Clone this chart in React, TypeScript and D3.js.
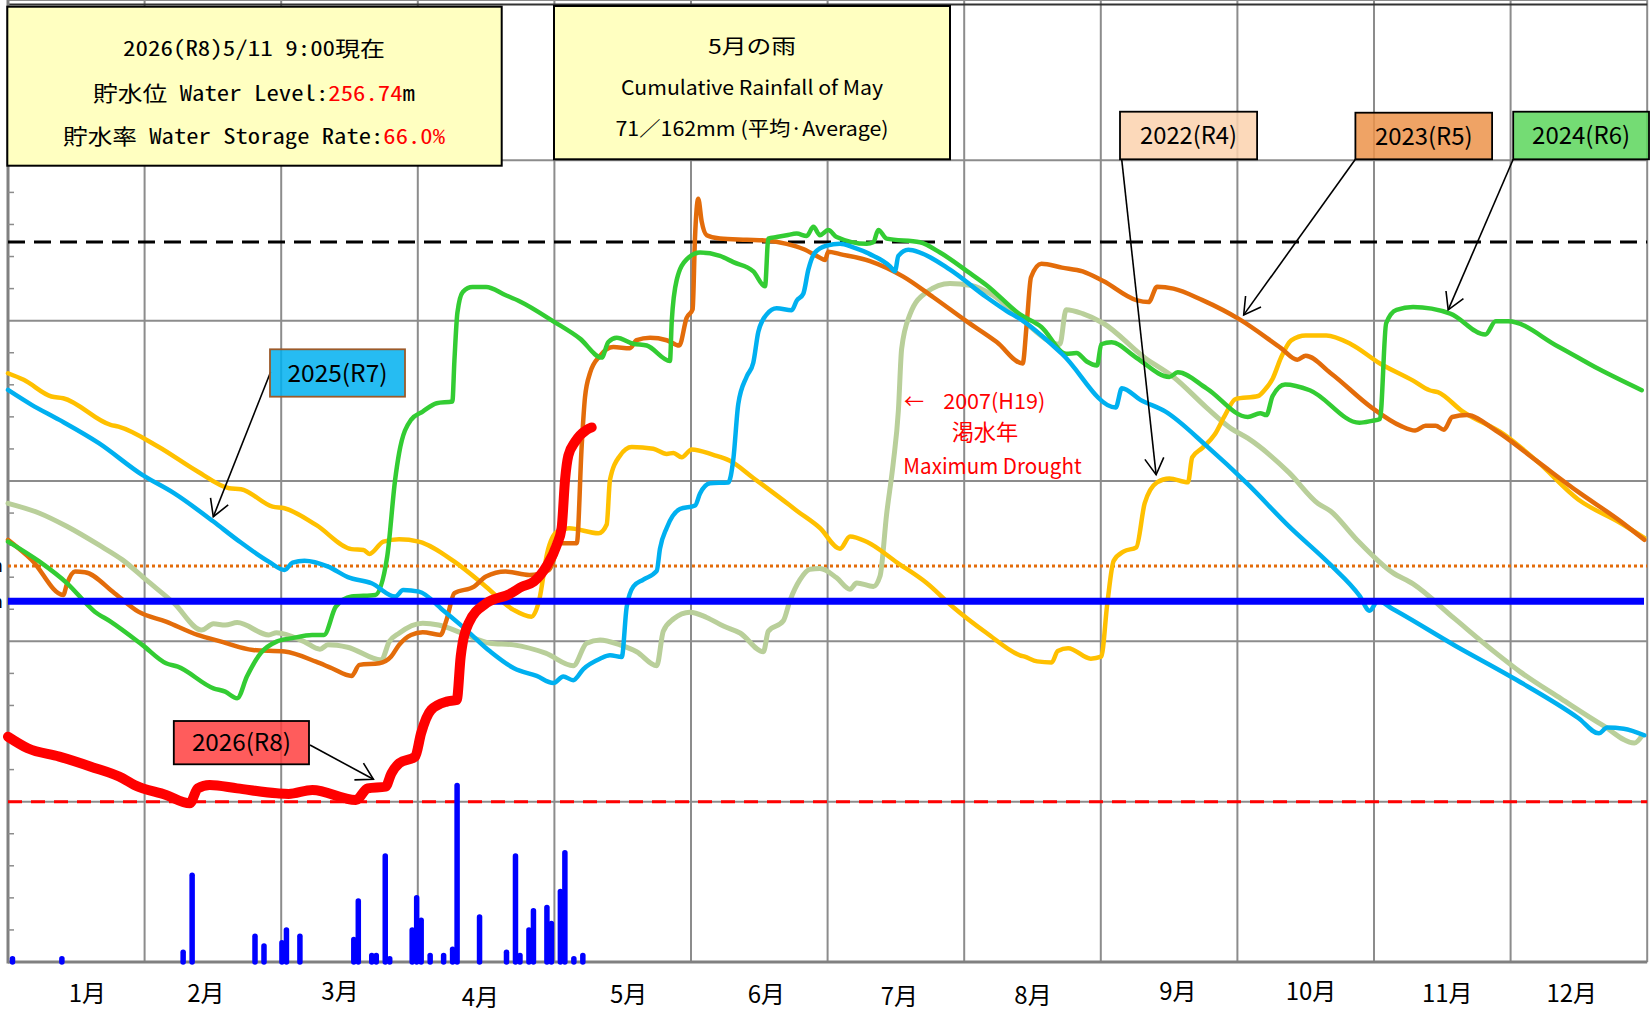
import React from 'react';
import * as d3 from 'd3';

// x: month index 0..12 (column = month), y: level in chart units (0..60, gridline every 10)
const months = ['1月', '2月', '3月', '4月', '5月', '6月', '7月', '8月', '9月', '10月', '11月', '12月'];

const s2007: [number, number][] = [
  [0, 28.61], [0.231, 27.99], [0.433, 27.16], [0.665, 26.01], [0.838, 25.08], [1.012, 23.83], [1.215, 22.38],
  [1.417, 20.71], [1.504, 21.09], [1.59, 21.02], [1.678, 21.17], [1.909, 20.4], [1.966, 20.54], [2.168, 19.98],
  [2.284, 19.51], [2.342, 19.78], [2.486, 19.63], [2.733, 18.84], [2.791, 19.98], [2.863, 20.51], [3.036, 21.13],
  [3.152, 21.02], [3.325, 20.51], [3.528, 19.88], [3.701, 19.78], [3.936, 19.26], [4.138, 18.48], [4.236, 19.88],
  [4.334, 20.09], [4.48, 19.78], [4.602, 19.35], [4.749, 18.48], [4.797, 20.63], [4.871, 21.39], [4.993, 21.82],
  [5.115, 21.49], [5.237, 20.95], [5.359, 20.52], [5.53, 19.35], [5.566, 20.63], [5.676, 21.28], [5.725, 22.56],
  [5.798, 23.85], [5.871, 24.5], [5.944, 24.54], [6.066, 23.96], [6.164, 23.25], [6.213, 23.64], [6.335, 23.42],
  [6.384, 24.07], [6.432, 27.93], [6.481, 31.15], [6.518, 34.37], [6.542, 38.24], [6.603, 40.39], [6.725, 41.78],
  [6.896, 42.32], [7.042, 42.21], [7.213, 41.57], [7.408, 40.17], [7.7, 38.53], [7.746, 40.68], [7.867, 40.44],
  [8.018, 39.84], [8.321, 37.69], [8.532, 36.49], [8.774, 34.58], [8.955, 33.27], [9.076, 32.67], [9.378, 30.52],
  [9.59, 28.6], [9.681, 28.13], [9.862, 26.45], [10.134, 24.3], [10.286, 23.58], [10.588, 21.43], [10.891, 19.28],
  [11.073, 18.08], [11.371, 16.41], [11.679, 14.74], [11.906, 13.66], [11.964, 14.14],
];

const s2022: [number, number][] = [
  [0, 36.72], [0.115, 36.31], [0.318, 35.27], [0.404, 35.16], [0.751, 33.5], [0.809, 33.39], [1.098, 32.15],
  [1.388, 30.59], [1.619, 29.55], [1.706, 29.49], [1.937, 28.4], [2.024, 28.3], [2.255, 27.26], [2.515, 25.75],
  [2.602, 25.7], [2.646, 25.45], [2.748, 26.22], [2.863, 26.37], [3.007, 26.22], [3.268, 24.97], [3.499, 23.41],
  [3.701, 21.96], [3.832, 21.54], [3.889, 22.58], [3.947, 25.5], [4.02, 26.84], [4.107, 27.05], [4.323, 26.74],
  [4.383, 27.29], [4.407, 30.08], [4.48, 31.58], [4.566, 32.12], [4.724, 32.01], [4.822, 31.69], [4.871, 31.75],
  [4.932, 31.48], [5.005, 31.97], [5.163, 31.63], [5.285, 31.26], [5.456, 30.19], [5.676, 28.79], [5.774, 28.15],
  [5.944, 27.07], [6.091, 25.78], [6.164, 26.54], [6.286, 26.21], [6.506, 24.93], [6.725, 23.64], [6.92, 22.13],
  [7.164, 20.52], [7.408, 19.13], [7.443, 19.04], [7.534, 18.75], [7.64, 18.68], [7.685, 19.4], [7.761, 19.57],
  [7.927, 18.92], [8.003, 19.04], [8.048, 22.39], [8.094, 25.02], [8.169, 25.61], [8.26, 25.86], [8.321, 28.6],
  [8.412, 29.92], [8.502, 30.16], [8.638, 29.92], [8.669, 31.47], [8.744, 32.07], [8.835, 32.91], [8.91, 34.11],
  [8.986, 35.11], [9.152, 35.3], [9.198, 35.66], [9.258, 36.38], [9.319, 37.69], [9.394, 38.77], [9.5, 39.08],
  [9.651, 39.08], [9.832, 38.53], [10.044, 37.33], [10.286, 36.26], [10.407, 35.66], [10.467, 35.54],
  [10.648, 34.34], [10.951, 32.91], [11.193, 31.24], [11.495, 28.85], [11.798, 27.41], [11.979, 26.45],
];

const s2023: [number, number][] = [
  [0, 26.33], [0.173, 25.08], [0.404, 22.89], [0.433, 23.62], [0.491, 24.35], [0.563, 24.31], [0.78, 23.0],
  [0.954, 21.85], [1.157, 21.23], [1.388, 20.4], [1.561, 19.98], [1.793, 19.46], [2.024, 19.36], [2.255, 18.73],
  [2.371, 18.32], [2.515, 17.84], [2.573, 18.53], [2.718, 18.63], [2.805, 19.05], [2.863, 19.78], [2.95, 20.4],
  [3.036, 20.57], [3.166, 20.4], [3.21, 21.33], [3.268, 23.0], [3.412, 23.41], [3.499, 24.04], [3.643, 24.35],
  [3.817, 24.14], [3.961, 24.45], [4.048, 26.12], [4.164, 26.12], [4.2, 32.23], [4.224, 35.23], [4.261, 36.74],
  [4.334, 37.81], [4.431, 38.35], [4.553, 38.28], [4.602, 38.78], [4.7, 38.93], [4.822, 38.78], [4.914, 38.45],
  [4.968, 40.17], [5.012, 40.71], [5.029, 45.12], [5.053, 47.6], [5.078, 46.19], [5.115, 45.33], [5.212, 45.12],
  [5.408, 45.05], [5.554, 45.0], [5.7, 44.79], [5.822, 44.47], [5.944, 43.93], [5.981, 43.78], [6.005, 44.3],
  [6.091, 44.15], [6.31, 43.72], [6.554, 42.75], [6.774, 41.46], [7.018, 39.96], [7.238, 38.67], [7.428, 37.33],
  [7.458, 39.84], [7.489, 42.71], [7.565, 43.55], [7.716, 43.31], [7.867, 43.07], [8.018, 42.47], [8.26, 41.28],
  [8.35, 41.16], [8.412, 42.11], [8.532, 42.0], [8.744, 41.28], [9.016, 40.08], [9.319, 38.29], [9.439, 37.57],
  [9.5, 37.81], [9.681, 36.74], [9.983, 34.58], [10.195, 33.44], [10.301, 33.15], [10.377, 33.44], [10.452, 33.44],
  [10.512, 33.2], [10.573, 33.99], [10.679, 34.11], [10.891, 33.15], [11.193, 31.24], [11.495, 29.32],
  [11.798, 27.53], [11.979, 26.33],
];

const s2024: [number, number][] = [
  [0, 26.22], [0.231, 24.97], [0.433, 23.62], [0.635, 21.85], [0.751, 21.23], [0.983, 19.78], [1.157, 18.63],
  [1.243, 18.42], [1.504, 17.07], [1.59, 16.86], [1.678, 16.45], [1.749, 17.8], [1.85, 19.26], [1.966, 19.98],
  [2.082, 20.2], [2.226, 20.4], [2.313, 20.4], [2.4, 22.16], [2.515, 22.79], [2.689, 22.89], [2.776, 25.28],
  [2.834, 30.07], [2.863, 31.73], [2.95, 33.81], [3.036, 34.33], [3.138, 34.85], [3.253, 34.96], [3.268, 37.5],
  [3.29, 40.5], [3.33, 41.8], [3.4, 42.1], [3.5, 42.1], [3.64, 41.6], [3.748, 41.2], [3.992, 39.96], [4.187, 38.88],
  [4.346, 37.7], [4.395, 38.67], [4.456, 38.93], [4.578, 38.56], [4.676, 38.45], [4.846, 37.49], [4.859, 39.96],
  [4.895, 42.53], [4.968, 43.82], [5.066, 44.25], [5.212, 44.04], [5.31, 43.65], [5.456, 43.08], [5.542, 42.14],
  [5.566, 45.12], [5.627, 45.22], [5.7, 45.33], [5.774, 45.43], [5.847, 45.28], [5.896, 45.86], [5.944, 45.33],
  [6.005, 45.65], [6.066, 45.22], [6.286, 44.79], [6.335, 44.89], [6.371, 45.65], [6.432, 45.12], [6.676, 44.89],
  [6.823, 44.25], [7.042, 42.96], [7.164, 42.21], [7.408, 40.39], [7.565, 39.61], [7.746, 37.93], [7.822, 37.98],
  [7.897, 37.45], [7.973, 37.21], [8.003, 38.53], [8.079, 38.65], [8.26, 37.69], [8.502, 36.49], [8.563, 36.78],
  [8.774, 35.78], [9.076, 33.99], [9.167, 34.23], [9.212, 34.11], [9.258, 35.3], [9.349, 36.02], [9.53, 35.66],
  [9.893, 33.63], [9.983, 33.75], [10.044, 33.87], [10.089, 39.84], [10.165, 40.68], [10.286, 40.85],
  [10.558, 40.44], [10.815, 39.13], [10.891, 39.96], [10.981, 39.96], [11.344, 38.41], [11.646, 36.98], [11.96, 35.66],
];

const s2025: [number, number][] = [
  [0, 35.68], [0.173, 34.75], [0.376, 33.81], [0.665, 32.36], [0.983, 30.38], [1.215, 29.24], [1.504, 27.47],
  [1.678, 26.33], [1.909, 24.97], [2.025, 24.45], [2.083, 24.91], [2.17, 25.03], [2.344, 24.66], [2.488, 24.0],
  [2.662, 23.62], [2.835, 22.79], [2.893, 23.2], [3.009, 23.1], [3.182, 21.96], [3.328, 20.92], [3.531, 19.36],
  [3.704, 18.32], [3.87, 17.84], [3.992, 17.4], [4.065, 17.8], [4.138, 17.58], [4.212, 18.27], [4.334, 18.91],
  [4.407, 19.13], [4.493, 19.02], [4.529, 22.13], [4.578, 23.42], [4.651, 23.85], [4.749, 24.39], [4.773, 25.78],
  [4.822, 27.07], [4.919, 28.25], [5.03, 28.47], [5.066, 29.22], [5.139, 29.86], [5.273, 29.91], [5.31, 31.37],
  [5.346, 34.8], [5.408, 36.52], [5.456, 37.38], [5.493, 39.31], [5.554, 40.39], [5.627, 40.77], [5.737, 40.65],
  [5.774, 41.25], [5.822, 41.68], [5.859, 43.18], [5.908, 44.25], [5.993, 44.68], [6.091, 44.8], [6.188, 44.57],
  [6.31, 44.15], [6.457, 43.39], [6.493, 43.08], [6.518, 44.04], [6.591, 44.42], [6.676, 44.25], [6.896, 43.18],
  [7.164, 41.46], [7.311, 40.6], [7.414, 40.08], [7.716, 37.93], [8.109, 34.58], [8.154, 35.78], [8.29, 35.06],
  [8.471, 34.34], [8.774, 32.19], [9.076, 29.8], [9.378, 27.17], [9.681, 24.78], [9.893, 22.86], [9.968, 21.91],
  [10.029, 22.51], [10.134, 22.03], [10.588, 19.76], [11.042, 17.6], [11.495, 15.22], [11.646, 14.26],
  [11.707, 14.62], [11.828, 14.55], [11.979, 14.14],
];

const s2026: [number, number][] = [
  [0, 14.05], [0.144, 13.33], [0.376, 12.81], [0.607, 12.18], [0.839, 11.46], [0.925, 11.04], [1.157, 10.42],
  [1.331, 9.9], [1.389, 10.83], [1.476, 11.04], [1.678, 10.83], [1.968, 10.52], [2.054, 10.48], [2.228, 10.73],
  [2.547, 10.1], [2.633, 10.83], [2.764, 10.94], [2.807, 11.77], [2.865, 12.4], [2.981, 12.81], [3.024, 14.27],
  [3.097, 15.72], [3.212, 16.24], [3.285, 16.34], [3.314, 19.05], [3.372, 21.13], [3.502, 22.38], [3.675, 22.96],
  [3.763, 23.41], [3.849, 23.72], [3.944, 24.71], [4.017, 26.0], [4.053, 27.07], [4.078, 30.08], [4.102, 31.58],
  [4.151, 32.44], [4.236, 33.19], [4.273, 33.34],
];

// daily rainfall 2026: day of year, mm
const rainDay = [1, 12, 39, 41, 55, 57, 61, 62, 65, 77, 78, 81, 82, 84, 85, 90, 91, 92, 94, 97, 99, 100, 105, 111, 113, 114, 116, 117, 120, 121, 123, 124, 126, 128];
const rainMm = [1, 1, 3, 27, 8, 5, 6, 10, 8, 7, 19, 2, 2, 33, 1, 10, 20, 13, 2, 2, 4, 55, 14, 3, 33, 2, 10, 16, 17, 12, 22, 34, 1, 2];

// reference levels
const fullLevel = 44.9;
const orangeLevel = 24.7;
const blueLevel = 22.5;
const redLevel = 10;

const series = [
  { name: '2007', data: s2007, color: '#B9CF9A', width: 5 },
  { name: '2022', data: s2022, color: '#FFC000', width: 4.5 },
  { name: '2023', data: s2023, color: '#E36C0A', width: 4.5 },
  { name: '2024', data: s2024, color: '#33CC33', width: 4.5 },
  { name: '2025', data: s2025, color: '#00B0F0', width: 4.5 },
];

// hand-placed month captions, offsets from column centre
const labelNudge = [[11, 0], [-7, 0], [-9.5, -1.5], [-5.7, 4.5], [6, 1.3], [7, 1.3], [3.5, 3.5], [0.5, 2.5], [8.8, -1.2], [5.3, -2], [5, 0.5], [-7.2, 0.5]];

const left = 8, right = 1647.2, top = 0, bottom = 962;

const jp = '"Noto Sans CJK JP", "Liberation Sans", sans-serif';
const mono = '"Noto Sans Mono CJK JP", "Liberation Mono", "Noto Sans CJK JP", monospace';

function Arrow({ from, to }: { from: [number, number]; to: [number, number] }) {
  const dx = from[0] - to[0], dy = from[1] - to[1];
  const len = Math.hypot(dx, dy);
  const ux = dx / len, uy = dy / len;
  const a = (30 * Math.PI) / 180, L = 19;
  const arm = (s: number) => [
    to[0] + L * (ux * Math.cos(s * a) - uy * Math.sin(s * a)),
    to[1] + L * (ux * Math.sin(s * a) + uy * Math.cos(s * a)),
  ];
  const p1 = arm(1), p2 = arm(-1);
  return (
    <g stroke="#000" strokeWidth={1.6} fill="none">
      <line x1={from[0]} y1={from[1]} x2={to[0]} y2={to[1]} />
      <polyline points={`${p1[0]},${p1[1]} ${to[0]},${to[1]} ${p2[0]},${p2[1]}`} />
    </g>
  );
}

function Tag({ x, y, w, h, fill, stroke, text, tw }: any) {
  return (
    <g>
      <rect x={x} y={y} width={w} height={h} fill={fill} fillOpacity={0.85} stroke={stroke} strokeWidth={1.8} />
      <text x={x + w / 2} y={y + h / 2} dy="0.36em" textAnchor="middle" fontFamily={jp} fontSize={24}
        textLength={tw} lengthAdjust="spacingAndGlyphs" fill="#000">{text}</text>
    </g>
  );
}

export default function App() {
  const x = d3.scaleLinear().domain([0, 12]).range([left, right]);
  const y = d3.scaleLinear().domain([0, 60]).range([bottom, top]);
  const rainY = d3.scaleLinear().domain([0, 50]).range([bottom, 801.5]);
  const dayX = (d: number) => x((d * 12) / 365);

  const line = d3.line<[number, number]>().x(d => x(d[0])).y(d => y(d[1])).curve(d3.curveMonotoneX);

  const majors = d3.range(0, 61, 10);
  const minors = d3.range(0, 61, 2).filter(v => v % 10 !== 0);
  const cols = d3.range(0, 13);

  return (
    <svg width={1650} height={1013} style={{ position: 'absolute', left: 0, top: 0, background: '#fff' }}>
      <rect x={0} y={0} width={1650} height={1013} fill="#fff" />
      {/* grid */}
      <g stroke="#8C8C8C" strokeWidth={2}>
        {majors.map(v => <line key={'h' + v} x1={left} x2={right} y1={y(v)} y2={y(v)} />)}
        {cols.map(c => <line key={'v' + c} x1={x(c)} x2={x(c)} y1={top} y2={bottom} />)}
      </g>
      <line x1={left} x2={right} y1={4.5} y2={4.5} stroke="#333" strokeWidth={2} />
      <g stroke="#808080" strokeWidth={3}>
        <line x1={left} x2={left} y1={top} y2={bottom + 1.5} />
        <line x1={left} x2={right} y1={bottom} y2={bottom} />
      </g>
      <g stroke="#8C8C8C" strokeWidth={1.5}>
        {minors.map(v => <line key={'m' + v} x1={left} x2={left + 6} y1={y(v)} y2={y(v)} />)}
      </g>
      <text x={3} y={y(orangeLevel)} dy="0.35em" textAnchor="end" fontFamily={jp} fontSize={18}>m</text>
      <text x={3} y={y(blueLevel)} dy="0.35em" textAnchor="end" fontFamily={jp} fontSize={18}>m</text>

      {/* reference levels */}
      <line x1={left} x2={right} y1={y(fullLevel)} y2={y(fullLevel)} stroke="#000" strokeWidth={3} strokeDasharray="17 9" />
      <line x1={left} x2={right} y1={y(orangeLevel)} y2={y(orangeLevel)} stroke="#E36C0A" strokeWidth={3} strokeDasharray="3 3" />

      {/* yearly lines */}
      {series.map(s => (
        <path key={s.name} d={line(s.data) || ''} fill="none" stroke={s.color} strokeWidth={s.width}
          strokeLinejoin="round" strokeLinecap="round" />
      ))}

      <line x1={left} x2={1644} y1={y(blueLevel)} y2={y(blueLevel)} stroke="#0000FF" strokeWidth={7} />
      <line x1={left} x2={right} y1={y(redLevel)} y2={y(redLevel)} stroke="#FF0000" strokeWidth={3} strokeDasharray="14 9" />

      {/* rainfall */}
      <g stroke="#0000FF" strokeWidth={5.5} strokeLinecap="round">
        {rainDay.map((d, i) => (
          <line key={'r' + i} x1={dayX(d)} x2={dayX(d)} y1={rainY(0)} y2={rainY(rainMm[i])} />
        ))}
      </g>

      <path d={line(s2026) || ''} fill="none" stroke="#FF0000" strokeWidth={10} strokeLinejoin="round" strokeLinecap="round" />

      {/* info boxes */}
      <rect x={7.3} y={6.7} width={494.4} height={159} fill="#FFFFC1" stroke="#000" strokeWidth={2} />
      <g fontFamily={mono} fontSize={21} textAnchor="middle" fill="#000" style={{ whiteSpace: 'pre' }}>
        <text x={254} y={48} dy="0.36em" textLength={262} lengthAdjust="spacingAndGlyphs">2026(R8)5/11  9:00現在</text>
        <text x={254} y={93.5} dy="0.36em" textLength={322} lengthAdjust="spacingAndGlyphs">
          貯水位 Water Level:<tspan fill="#FF0000">256.74</tspan>m
        </text>
        <text x={254} y={136.7} dy="0.36em" textLength={382} lengthAdjust="spacingAndGlyphs">
          貯水率 Water Storage Rate:<tspan fill="#FF0000">66.0%</tspan>
        </text>
      </g>

      <rect x={554} y={6} width={396} height={153.3} fill="#FFFFC1" stroke="#000" strokeWidth={2} />
      <g fontFamily={jp} fontSize={20} textAnchor="middle" fill="#000">
        <text x={752} y={46.7} dy="0.36em" textLength={88} lengthAdjust="spacingAndGlyphs">5月の雨</text>
        <text x={752} y={87.5} dy="0.36em" textLength={262} lengthAdjust="spacingAndGlyphs">Cumulative Rainfall of May</text>
        <text x={752} y={129} dy="0.36em" textLength={273} lengthAdjust="spacingAndGlyphs">71／162mm (平均·Average)</text>
      </g>

      {/* year tags */}
      <Arrow from={[270.7, 371.7]} to={[213.3, 516.7]} />
      <Arrow from={[310, 745]} to={[373.4, 779.3]} />
      <Arrow from={[1121.7, 159.3]} to={[1156.1, 474.7]} />
      <Arrow from={[1355.4, 159.3]} to={[1243.7, 314.9]} />
      <Arrow from={[1513.2, 159.3]} to={[1448.2, 309.9]} />
      <Tag x={270} y={349.3} w={135} h={47.4} fill="#00B0F0" stroke="#9C5A2A" text="2025(R7)" tw={100} />
      <Tag x={173.8} y={721} w={135.2} h={43.3} fill="#FF4040" stroke="#000" text="2026(R8)" tw={99} />
      <Tag x={1120} y={111.7} w={137.1} h={47.6} fill="#FCD2AE" stroke="#000" text="2022(R4)" tw={97} />
      <Tag x={1355.4} y={112.7} w={136.7} h={46.6} fill="#EC934A" stroke="#000" text="2023(R5)" tw={97.6} />
      <Tag x={1513.2} y={111.7} w={135.8} h={47.6} fill="#5CD65C" stroke="#000" text="2024(R6)" tw={98} />

      {/* drought note */}
      <g fontFamily={jp} fill="#FF0000" textAnchor="middle">
        <text x={914} y={401.7} dy="0.36em" fontSize={20}>←</text>
        <text x={994.2} y={401.7} dy="0.36em" fontSize={21} textLength={102} lengthAdjust="spacingAndGlyphs">2007(H19)</text>
        <text x={985} y={432.3} dy="0.36em" fontSize={22} textLength={66.7} lengthAdjust="spacingAndGlyphs">渇水年</text>
        <text x={992.5} y={466} dy="0.36em" fontSize={21} textLength={178.4} lengthAdjust="spacingAndGlyphs">Maximum Drought</text>
      </g>

      {/* month axis */}
      <g fontFamily={jp} fontSize={24} textAnchor="middle" fill="#000">
        {months.map((m, i) => (
          <text key={m} x={x(i + 0.5) + labelNudge[i][0]} y={993 + labelNudge[i][1]} dy="0.36em">{m}</text>
        ))}
      </g>
    </svg>
  );
}
